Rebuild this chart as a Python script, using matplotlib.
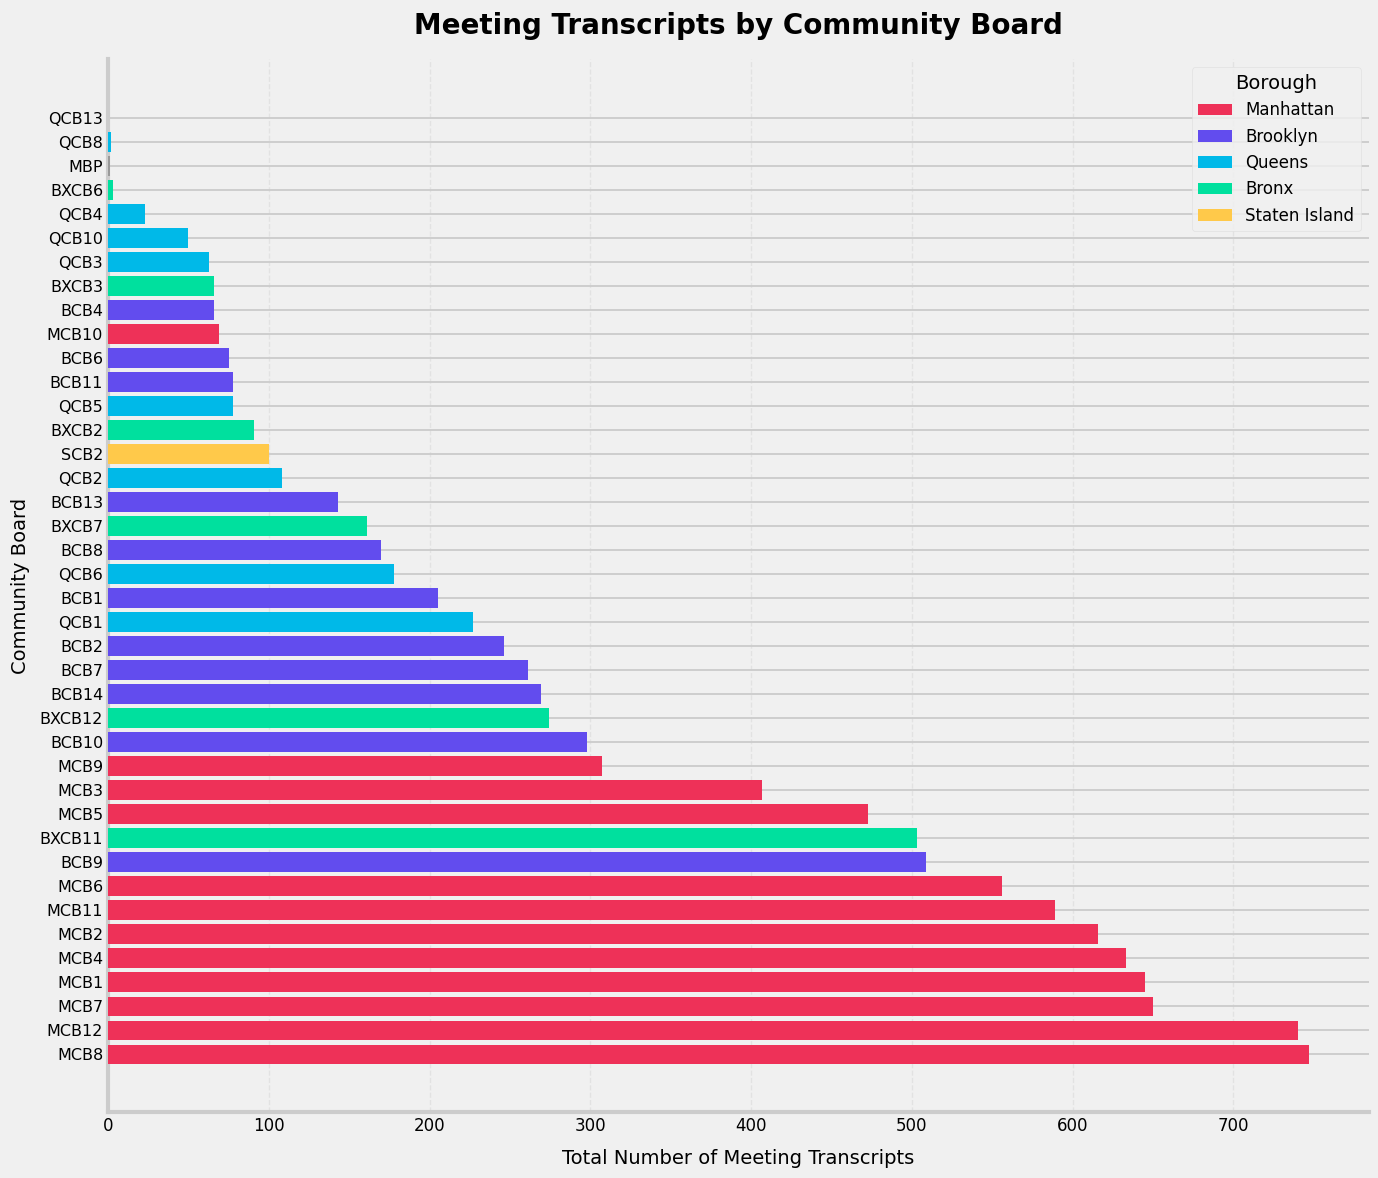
import numpy as np
import matplotlib.pyplot as plt
from matplotlib.patches import Patch

plt.style.use("fivethirtyeight")

# Boards ordered bottom to top, as drawn
boards = ["MCB8", "MCB12", "MCB7", "MCB1", "MCB4", "MCB2", "MCB11", "MCB6",
          "BCB9", "BXCB11", "MCB5", "MCB3", "MCB9", "BCB10", "BXCB12", "BCB14",
          "BCB7", "BCB2", "QCB1", "BCB1", "QCB6", "BCB8", "BXCB7", "BCB13",
          "QCB2", "SCB2", "BXCB2", "QCB5", "BCB11", "BCB6", "MCB10", "BCB4",
          "BXCB3", "QCB3", "QCB10", "QCB4", "BXCB6", "MBP", "QCB8", "QCB13"]
transcripts = [747, 740, 650, 645, 633, 616, 589, 556,
               509, 503, 473, 407, 307, 298, 274, 269,
               261, 246, 227, 205, 178, 170, 161, 143,
               108, 100, 91, 78, 78, 75, 69, 66,
               66, 63, 50, 23, 3, 1, 2, 0]

boroughs = ["Manhattan", "Brooklyn", "Queens", "Bronx", "Staten Island"]
borough_colors = ["#EE3158", "#624CEE", "#00B9E8", "#00E09E", "#FFC94A"]
prefixes = ["MCB", "BCB", "QCB", "BXCB", "SCB"]


def board_color(name):
    for p, c in zip(prefixes, borough_colors):
        if name.startswith(p) and name[len(p):].isdigit():
            return c
    return "#999999"


colors = [board_color(b) for b in boards]
y = np.arange(len(boards))

fig, ax = plt.subplots(figsize=(13.78, 11.78), dpi=100)
fig.patch.set_facecolor("#f0f0f0")
ax.set_facecolor("#f0f0f0")
fig.subplots_adjust(left=0.0784, right=0.9935, top=0.95, bottom=0.056)

ax.barh(y, transcripts, color=colors, height=0.82, zorder=3)

ax.set_yticks(y)
ax.set_yticklabels(boards, fontsize=11.5)
ax.tick_params(axis="x", labelsize=12)
ax.set_ylim(-2.4, len(boards) - 1 + 2.45)
ax.set_xlim(0, max(transcripts) * 1.05)

ax.grid(False)
ax.yaxis.grid(True, color="#cbcbcb", linewidth=1.3, linestyle="-", zorder=0)
ax.xaxis.grid(True, color="#dddddd", linewidth=1.0, linestyle="--", alpha=0.7, zorder=0)
ax.set_axisbelow(True)

for side in ["top", "right"]:
    ax.spines[side].set_visible(False)
for side in ["left", "bottom"]:
    ax.spines[side].set_visible(True)
    ax.spines[side].set_color("#cccccc")
    ax.spines[side].set_linewidth(3)

ax.set_title("Meeting Transcripts by Community Board", fontsize=20,
             fontweight="bold", pad=18)
ax.set_xlabel("Total Number of Meeting Transcripts", fontsize=14, labelpad=10)
ax.set_ylabel("Community Board", fontsize=14, labelpad=7)

handles = [Patch(facecolor=c, label=b) for b, c in zip(boroughs, borough_colors)]
leg = ax.legend(handles=handles, title="Borough", loc="upper right",
                fontsize=12, title_fontsize=14, frameon=True)
leg.get_frame().set_facecolor("#f0f0f0")
leg.get_frame().set_edgecolor("#dddddd")

plt.savefig("out.png", dpi=100, facecolor=fig.get_facecolor())
